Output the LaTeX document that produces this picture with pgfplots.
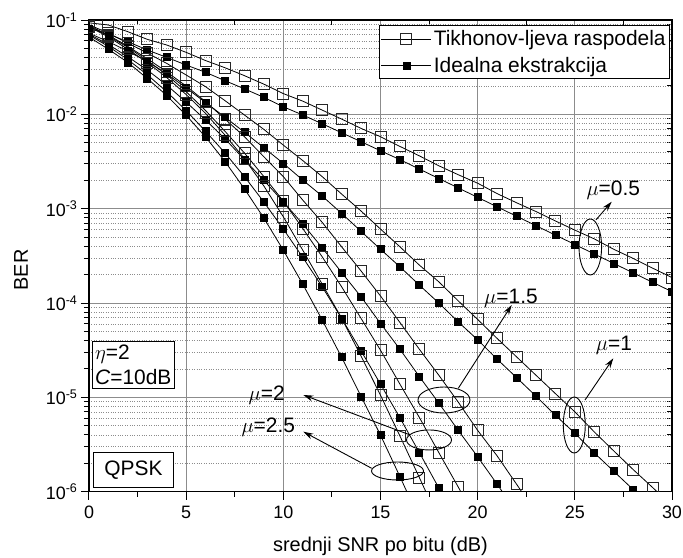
\documentclass[border=0pt]{standalone}
\usepackage{fontspec}
\setmainfont{Liberation Sans}
\usepackage{pgfplots}
\pgfplotsset{compat=1.18}
\usetikzlibrary{calc,arrows.meta}
\begin{document}
\begin{tikzpicture}
\begin{axis}[
  scale only axis, width=583bp, height=471.7bp,
  ymode=log, xmin=0, xmax=30, ymin=1e-6, ymax=1e-1,
  xtick={0,5,...,30}, minor x tick num=1,
  ytick={1e-6,1e-5,1e-4,1e-3,1e-2,1e-1},
  major tick length=8bp, minor tick length=5bp,
  axis line style={line width=1.3bp},
  every tick/.style={black, line width=1bp},
  xtick pos=upper, ytick pos=right, tick align=inside,
  xticklabels={}, yticklabels={}]
\end{axis}
\begin{axis}[
  scale only axis, width=583bp, height=471.7bp,
  ymode=log, xmin=0, xmax=30, ymin=1e-6, ymax=1e-1,
  xtick={0,5,...,30}, minor x tick num=1,
  ytick={1e-6,1e-5,1e-4,1e-3,1e-2,1e-1},
  major tick length=8bp, minor tick length=5bp,
  axis line style={line width=1.3bp},
  every tick/.style={black, line width=1bp},
  xtick pos=lower, ytick pos=left,
  yticklabels={10\textsuperscript{-6},10\textsuperscript{-5},10\textsuperscript{-4},10\textsuperscript{-3},10\textsuperscript{-2},10\textsuperscript{-1}},
  tick align=outside,
  xmajorgrids, ymajorgrids, yminorgrids,
  major grid style={black!45, line width=0.8bp},
  minor grid style={black!45, dotted, line width=0.6bp},
  tick label style={font=\fontsize{18}{18}\selectfont},
  xticklabel style={yshift=-3bp},
  /pgf/number format/assume math mode=true,
  xlabel={srednji SNR po bitu (dB)}, ylabel={BER},
  label style={font=\fontsize{20}{20}\selectfont},
  xlabel style={at={(axis description cs:0.5,0)}, anchor=center, yshift=-55bp},
  ylabel style={at={(axis description cs:-0.1166,0.47)}, anchor=center},
  clip marker paths=true,
  legend style={at={(rel axis cs:0.9966,0.989)}, anchor=north east,
    font=\fontsize{21}{21}\selectfont, draw=black, line width=0.8bp,
    inner xsep=2bp, inner ysep=3bp, row sep=6bp, cells={anchor=west}},
  legend image code/.code={\draw[mark repeat=2,mark phase=2,#1] plot coordinates {(0bp,0bp) (25bp,0bp) (50bp,0bp)};},
  Tk/.style={black, line width=0.8bp, mark=square, mark size=5.5bp, mark options={solid, draw=black!85, line width=0.9bp}},
  Id/.style={black, line width=0.8bp, mark=square*, mark size=3.5bp, mark options={solid, fill=black}},
]
% mu = 0.5
\addplot[Tk] table[row sep=\\, y expr=10^(\thisrow{y})] {x y\\
0 -1.03\\ 1 -1.053\\ 2 -1.124\\ 3 -1.205\\ 4 -1.265\\ 5 -1.343\\ 6 -1.43\\ 7 -1.506\\ 8 -1.59\\ 9 -1.68\\ 10 -1.78\\
11 -1.86\\ 12 -1.955\\ 13 -2.05\\ 14 -2.149\\ 15 -2.237\\ 16 -2.34\\ 17 -2.44\\ 18 -2.545\\ 19 -2.64\\ 20 -2.73\\
21 -2.84\\ 22 -2.937\\ 23 -3.03\\ 24 -3.13\\ 25 -3.227\\ 26 -3.32\\ 27 -3.43\\ 28 -3.527\\ 29 -3.63\\ 30 -3.73\\};
\addlegendentry{Tikhonov-ljeva raspodela}
\addplot[Id] table[row sep=\\, y expr=10^(\thisrow{y})] {x y\\
0 -1.09\\ 1 -1.15\\ 2 -1.23\\ 3 -1.318\\ 4 -1.396\\ 5 -1.477\\ 6 -1.555\\ 7 -1.643\\ 8 -1.73\\ 9 -1.82\\ 10 -1.92\\
11 -2.007\\ 12 -2.10\\ 13 -2.195\\ 14 -2.29\\ 15 -2.386\\ 16 -2.48\\ 17 -2.58\\ 18 -2.68\\ 19 -2.78\\ 20 -2.88\\
21 -2.98\\ 22 -3.08\\ 23 -3.18\\ 24 -3.28\\ 25 -3.379\\ 26 -3.48\\ 27 -3.58\\ 28 -3.68\\ 29 -3.78\\ 30 -3.88\\};
\addlegendentry{Idealna ekstrakcija}
% mu = 1
\addplot[Tk] table[row sep=\\, y expr=10^(\thisrow{y})] {x y\\
0 -1.05\\ 1 -1.14\\ 2 -1.245\\ 3 -1.35\\ 4 -1.46\\ 5 -1.583\\ 6 -1.707\\ 7 -1.855\\ 8 -2.007\\ 9 -2.16\\ 10 -2.326\\
11 -2.49\\ 12 -2.66\\ 13 -2.845\\ 14 -3.025\\ 15 -3.216\\ 16 -3.404\\ 17 -3.598\\ 18 -3.775\\ 19 -3.977\\ 20 -4.174\\
21 -4.375\\ 22 -4.57\\ 23 -4.765\\ 24 -4.96\\ 25 -5.153\\ 26 -5.366\\ 27 -5.567\\ 28 -5.765\\ 29 -5.955\\ 30 -6.15\\};
\addplot[Id] table[row sep=\\, y expr=10^(\thisrow{y})] {x y\\
0 -1.14\\ 1 -1.23\\ 2 -1.33\\ 3 -1.44\\ 4 -1.57\\ 5 -1.72\\ 6 -1.875\\ 7 -2.03\\ 8 -2.19\\ 9 -2.354\\ 10 -2.52\\
11 -2.697\\ 12 -2.866\\ 13 -3.05\\ 14 -3.24\\ 15 -3.43\\ 16 -3.616\\ 17 -3.81\\ 18 -4.0\\ 19 -4.2\\ 20 -4.39\\
21 -4.595\\ 22 -4.79\\ 23 -4.987\\ 24 -5.19\\ 25 -5.38\\ 26 -5.588\\ 27 -5.783\\ 28 -5.977\\ 29 -6.17\\};
% mu = 1.5
\addplot[Tk] table[row sep=\\, y expr=10^(\thisrow{y})] {x y\\
0 -1.06\\ 1 -1.16\\ 2 -1.28\\ 3 -1.41\\ 4 -1.55\\ 5 -1.70\\ 6 -1.866\\ 7 -2.05\\ 8 -2.237\\ 9 -2.45\\ 10 -2.66\\
11 -2.909\\ 12 -3.145\\ 13 -3.404\\ 14 -3.66\\ 15 -3.925\\ 16 -4.206\\ 17 -4.49\\ 18 -4.765\\ 19 -5.05\\ 20 -5.35\\
21 -5.62\\ 22 -5.92\\ 23 -6.22\\};
\addplot[Id] table[row sep=\\, y expr=10^(\thisrow{y})] {x y\\
0 -1.15\\ 1 -1.26\\ 2 -1.39\\ 3 -1.53\\ 4 -1.69\\ 5 -1.87\\ 6 -2.06\\ 7 -2.26\\ 8 -2.48\\ 9 -2.70\\ 10 -2.927\\
11 -3.163\\ 12 -3.414\\ 13 -3.676\\ 14 -3.934\\ 15 -4.216\\ 16 -4.49\\ 17 -4.78\\ 18 -5.06\\ 19 -5.35\\ 20 -5.63\\
21 -5.92\\ 22 -6.22\\};
% mu = 2
\addplot[Tk] table[row sep=\\, y expr=10^(\thisrow{y})] {x y\\
0 -1.06\\ 1 -1.17\\ 2 -1.29\\ 3 -1.43\\ 4 -1.58\\ 5 -1.76\\ 6 -1.96\\ 7 -2.18\\ 8 -2.41\\ 9 -2.66\\ 10 -2.92\\
11 -3.21\\ 12 -3.51\\ 13 -3.828\\ 14 -4.163\\ 15 -4.5\\ 16 -4.86\\ 17 -5.213\\ 18 -5.585\\ 19 -5.95\\ 20 -6.33\\};
\addplot[Id] table[row sep=\\, y expr=10^(\thisrow{y})] {x y\\
0 -1.16\\ 1 -1.28\\ 2 -1.42\\ 3 -1.58\\ 4 -1.76\\ 5 -1.96\\ 6 -2.18\\ 7 -2.41\\ 8 -2.66\\ 9 -2.93\\ 10 -3.216\\
11 -3.516\\ 12 -3.828\\ 13 -4.163\\ 14 -4.507\\ 15 -4.86\\ 16 -5.217\\ 17 -5.585\\ 18 -5.96\\ 19 -6.34\\};
% mu = 2.5
\addplot[Tk] table[row sep=\\, y expr=10^(\thisrow{y})] {x y\\
0 -1.07\\ 1 -1.18\\ 2 -1.31\\ 3 -1.45\\ 4 -1.61\\ 5 -1.79\\ 6 -1.99\\ 7 -2.22\\ 8 -2.47\\ 9 -2.76\\ 10 -3.086\\
11 -3.44\\ 12 -3.80\\ 13 -4.16\\ 14 -4.563\\ 15 -4.977\\ 16 -5.41\\ 17 -5.85\\ 18 -6.30\\};
\addplot[Id] table[row sep=\\, y expr=10^(\thisrow{y})] {x y\\
0 -1.18\\ 1 -1.31\\ 2 -1.45\\ 3 -1.62\\ 4 -1.80\\ 5 -2.01\\ 6 -2.24\\ 7 -2.50\\ 8 -2.79\\ 9 -3.10\\ 10 -3.44\\
11 -3.80\\ 12 -4.18\\ 13 -4.575\\ 14 -4.99\\ 15 -5.40\\ 16 -5.84\\ 17 -6.29\\};

% annotations
\tikzset{ann/.style={line width=0.9bp}, arr/.style={line width=0.9bp, -{Stealth[length=10bp,width=6bp]}},
  lab/.style={font=\fontsize{21}{21}\selectfont, inner sep=0pt}}
% mu=0.5
\draw[ann] (rel axis cs:0.8599,0.5188) ellipse [x radius=11.3bp, y radius=28bp];
\draw[arr] (rel axis cs:0.8696,0.5763) -- (rel axis cs:0.8966,0.6148);
\node[lab] at (rel axis cs:0.8993,0.6385) {$\mu$=0.5};
% mu=1
\draw[ann] (rel axis cs:0.8324,0.1414) ellipse [x radius=11bp, y radius=28bp];
\draw[arr] (rel axis cs:0.8508,0.1944) -- (rel axis cs:0.8993,0.2828);
\node[lab] at (rel axis cs:0.9005,0.3111) {$\mu$=1};
% mu=1.5
\draw[ann] (rel axis cs:0.6089,0.1944) ellipse [x radius=26bp, y radius=13bp];
\draw[arr] (rel axis cs:0.6334,0.2192) -- (rel axis cs:0.7251,0.3958);
\node[lab] at (rel axis cs:0.7238,0.4096) {$\mu$=1.5};
% mu=2
\draw[ann] (rel axis cs:0.5832,0.1097) ellipse [x radius=22.5bp, y radius=10bp];
\draw[arr] (rel axis cs:0.5506,0.1204) -- (rel axis cs:0.3676,0.2050);
\node[lab] at (rel axis cs:0.3049,0.2042) {$\mu$=2};
% mu=2.5
\draw[ann] (rel axis cs:0.5292,0.0439) ellipse [x radius=26bp, y radius=9bp];
\draw[arr] (rel axis cs:0.4849,0.0496) -- (rel axis cs:0.3676,0.1272);
\node[lab] at (rel axis cs:0.3075,0.1378) {$\mu$=2.5};
% text boxes
\node[draw, fill=white, line width=0.8bp, align=left, anchor=north west, inner sep=3bp,
  font=\fontsize{21}{26}\selectfont] at (rel axis cs:0.0046,0.3194) {$\eta$=2\\\textit{C}=10dB};
\node[draw, fill=white, line width=0.8bp, anchor=south west, minimum width=80bp, minimum height=35bp,
  font=\fontsize{21}{21}\selectfont] at (rel axis cs:0.0069,0.0079) {QPSK};
\end{axis}
\pgfresetboundingbox
\useasboundingbox ($(current axis.south west)+(-89bp,-66.3bp)$) rectangle ($(current axis.north east)+(11bp,20bp)$);
\end{tikzpicture}
\end{document}
